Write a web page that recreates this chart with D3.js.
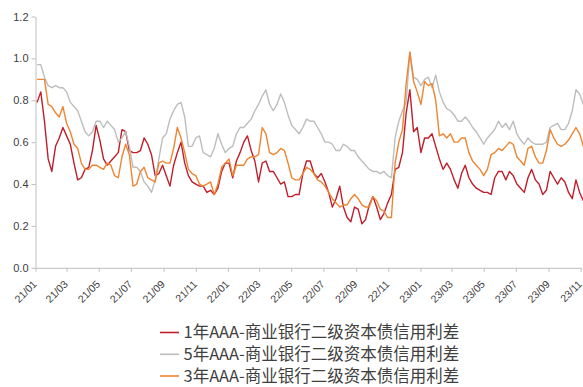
<!DOCTYPE html>
<html>
<head>
<meta charset="utf-8">
<script src="https://cdn.jsdelivr.net/npm/d3@7"></script>
<style>
  html, body { margin: 0; padding: 0; background: #fff; }
  svg { display: block; }
</style>
</head>
<body>
<svg id="chart" width="583" height="387"></svg>
<script>
// ---- data (weekly readings, starting 2021-01-04, one value every 7 days) ----
const startDate = "2021-01-04";
const stepDays = 7;

const seriesNames = [
  "1年AAA-商业银行二级资本债信用利差",
  "5年AAA-商业银行二级资本债信用利差",
  "3年AAA-商业银行二级资本债信用利差"
];
const seriesColors = ["#BF1E2A", "#BDBDBD", "#EE8532"];

const spread1Y = [
  0.79,0.84,0.70,0.52,0.46,0.58,0.62,0.67,0.63,0.59,
  0.50,0.42,0.43,0.47,0.48,0.56,0.68,0.61,0.52,0.49,
  0.51,0.53,0.55,0.66,0.65,0.56,0.55,0.55,0.56,0.62,
  0.59,0.54,0.44,0.45,0.49,0.44,0.39,0.49,0.55,0.60,
  0.50,0.44,0.41,0.40,0.39,0.39,0.36,0.37,0.35,0.38,
  0.46,0.50,0.50,0.43,0.51,0.55,0.60,0.63,0.56,0.51,
  0.41,0.50,0.51,0.46,0.46,0.43,0.40,0.41,0.34,0.34,
  0.35,0.35,0.45,0.51,0.51,0.45,0.43,0.45,0.41,0.36,
  0.29,0.33,0.39,0.29,0.24,0.22,0.29,0.28,0.21,0.23,
  0.30,0.34,0.29,0.23,0.26,0.31,0.35,0.47,0.48,0.55,
  0.74,0.85,0.65,0.67,0.55,0.62,0.62,0.64,0.58,0.52,
  0.47,0.50,0.47,0.42,0.38,0.45,0.49,0.43,0.40,0.38,
  0.37,0.36,0.36,0.35,0.43,0.46,0.46,0.42,0.46,0.44,
  0.40,0.38,0.36,0.43,0.47,0.42,0.40,0.35,0.37,0.46,
  0.43,0.40,0.43,0.41,0.36,0.33,0.42,0.36,0.32
];

const spread5Y = [
  0.97,0.97,0.91,0.87,0.86,0.87,0.86,0.86,0.84,0.79,
  0.77,0.75,0.70,0.65,0.63,0.65,0.70,0.70,0.67,0.70,
  0.68,0.66,0.60,0.62,0.65,0.58,0.48,0.48,0.46,0.41,
  0.39,0.36,0.42,0.52,0.62,0.64,0.71,0.75,0.78,0.79,
  0.72,0.58,0.58,0.62,0.63,0.55,0.54,0.53,0.57,0.64,
  0.59,0.55,0.57,0.58,0.64,0.67,0.67,0.69,0.71,0.75,
  0.78,0.82,0.85,0.78,0.75,0.78,0.83,0.79,0.73,0.68,
  0.66,0.64,0.67,0.71,0.70,0.70,0.67,0.64,0.60,0.60,
  0.59,0.56,0.56,0.59,0.58,0.56,0.56,0.53,0.51,0.49,
  0.47,0.46,0.46,0.45,0.46,0.44,0.43,0.62,0.70,0.75,
  0.79,1.03,0.91,0.90,0.87,0.90,0.91,0.86,0.92,0.84,
  0.79,0.76,0.75,0.73,0.70,0.70,0.72,0.70,0.67,0.65,
  0.62,0.59,0.62,0.64,0.66,0.70,0.67,0.69,0.66,0.70,
  0.64,0.61,0.59,0.62,0.60,0.59,0.59,0.59,0.60,0.67,
  0.68,0.69,0.66,0.66,0.69,0.75,0.85,0.83,0.78
];

const spread3Y = [
  0.90,0.90,0.90,0.78,0.77,0.74,0.72,0.77,0.69,0.65,
  0.59,0.57,0.50,0.47,0.47,0.49,0.49,0.48,0.47,0.50,
  0.49,0.44,0.43,0.53,0.59,0.54,0.39,0.40,0.46,0.48,
  0.43,0.42,0.41,0.50,0.51,0.50,0.50,0.57,0.67,0.62,
  0.55,0.47,0.45,0.44,0.40,0.39,0.40,0.41,0.35,0.40,
  0.48,0.50,0.52,0.44,0.49,0.49,0.49,0.52,0.53,0.53,
  0.54,0.67,0.64,0.55,0.54,0.55,0.57,0.56,0.50,0.43,
  0.42,0.42,0.45,0.48,0.47,0.45,0.42,0.41,0.39,0.36,
  0.33,0.31,0.29,0.30,0.30,0.33,0.35,0.33,0.30,0.29,
  0.29,0.34,0.32,0.28,0.27,0.24,0.24,0.50,0.60,0.66,
  0.88,1.03,0.89,0.84,0.78,0.89,0.87,0.88,0.80,0.63,
  0.64,0.62,0.64,0.60,0.60,0.62,0.62,0.55,0.51,0.49,
  0.47,0.44,0.47,0.54,0.55,0.57,0.56,0.58,0.60,0.59,
  0.53,0.51,0.49,0.57,0.58,0.53,0.50,0.50,0.56,0.66,
  0.62,0.59,0.58,0.59,0.61,0.64,0.67,0.64,0.58
];

const yTicks = [0, 0.2, 0.4, 0.6, 0.8, 1.0, 1.2];
const xDomain = ["2021-01-01", "2023-11-01"];

// ---- drawing ----
const parse = d3.timeParse("%Y-%m-%d");
const start = parse(startDate);
const dates = d3.range(spread1Y.length).map(i => d3.timeDay.offset(start, i * stepDays));

const svg = d3.select("#chart");
svg.append("rect").attr("width", 583).attr("height", 387).attr("fill", "#fff");

const x = d3.scaleTime().domain(xDomain.map(parse)).range([35.5, 580.7]);
const y = d3.scaleLinear().domain([0, 1.2]).range([267.8, 16.5]);

const axisColor = "#BFBFBF";
const textColor = "#404040";

// y axis
const gy = svg.append("g").attr("transform", "translate(35.5,0)")
  .call(d3.axisLeft(y).tickValues(yTicks).tickFormat(d3.format(".1f")).tickSize(4).tickSizeOuter(0).tickPadding(3));
gy.select(".domain").attr("stroke", axisColor);
gy.selectAll(".tick line").attr("stroke", axisColor);
gy.selectAll(".tick text").attr("fill", textColor)
  .style("font-family", "'Liberation Sans', Arial, sans-serif").style("font-size", "11px");

// x axis
const xTicks = d3.timeMonth.every(2).range(parse("2021-01-01"), d3.timeDay.offset(parse("2023-11-01"), 1));
const gx = svg.append("g").attr("transform", "translate(0,267.8)")
  .call(d3.axisBottom(x).tickValues(xTicks).tickFormat(d3.timeFormat("%y/%m")).tickSize(4).tickSizeOuter(0));
gx.select(".domain").attr("stroke", axisColor);
gx.selectAll(".tick line").attr("stroke", axisColor);
gx.selectAll(".tick text")
  .attr("fill", textColor)
  .attr("text-anchor", "end")
  .attr("dy", null)
  .attr("y", null)
  .attr("transform", "translate(1.5,17) rotate(-45)")
  .style("font-family", "'Liberation Sans', Arial, sans-serif").style("font-size", "10.5px");

// lines
const allSeries = [spread1Y, spread5Y, spread3Y];
const line = d3.line().x((d, i) => x(dates[i])).y(d => y(d));
allSeries.forEach((vals, k) => {
  svg.append("path")
    .datum(vals)
    .attr("fill", "none")
    .attr("stroke", seriesColors[k])
    .attr("stroke-width", 1.4)
    .attr("stroke-linejoin", "round")
    .attr("d", line);
});

// legend
const legendY = [332.5, 354.3, 376];
seriesNames.forEach((name, k) => {
  const g = svg.append("g").attr("transform", `translate(0,${legendY[k]})`);
  g.append("line").attr("x1", 160).attr("x2", 179).attr("y1", 0).attr("y2", 0)
    .attr("stroke", seriesColors[k]).attr("stroke-width", 1.6);
  g.append("text").attr("x", 183.5).attr("y", 0).attr("dy", "0.35em")
    .attr("fill", textColor)
    .style("font-family", "'Noto Sans CJK SC', sans-serif")
    .style("font-size", "16.5px")
    .text(name);
});
</script>
</body>
</html>
